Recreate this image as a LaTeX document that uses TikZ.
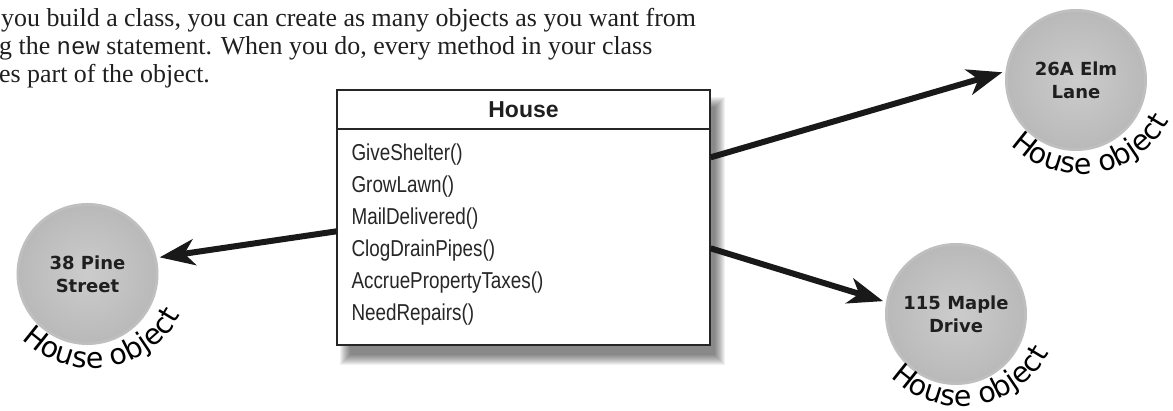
\documentclass[tikz,border=0pt]{standalone}
\usepackage{fontspec}
\setmainfont{Liberation Serif}
\newfontfamily\sansf{Liberation Sans}
\newfontfamily\methf[FakeStretch=0.82]{Liberation Sans}
\newfontfamily\monof{Liberation Mono}
\newfontfamily\labf{DejaVu Sans}
\usetikzlibrary{arrows.meta,decorations.text}
\pgfdeclareradialshading{ballshade}{\pgfpoint{0bp}{0bp}}{color(0bp)=(black!20); color(24bp)=(black!27); color(40bp)=(black!36); color(46bp)=(black!52); color(48.5bp)=(black!66); color(50bp)=(black!50)}
\begin{document}
\begin{tikzpicture}[x=1pt,y=1pt,
  toptext/.style={anchor=base west, inner sep=0, font=\fontsize{25.9}{28}\selectfont, text=black!88},
  classbox/.style={draw=black!85, line width=1.3pt, fill=white, minimum width=373pt, minimum height=255pt, inner sep=0},
  meth/.style={anchor=base west, inner sep=0, font=\methf\fontsize{23}{23}\selectfont, text=black!85},
  ball/.style={circle, minimum size=136pt, inner sep=0, outer sep=6pt, shading=ballshade, preaction={draw=black!25, line width=6pt}, align=center, font=\labf\bfseries\fontsize{18}{23}\selectfont, text=black!88},
  link/.style={line width=6pt, draw=black!90, -{Stealth[length=35pt,width=26pt,inset=10pt]}},
  hobj/.style={decorate, decoration={text along path, text align=center, text={|\labf\fontsize{28.5}{28.5}\selectfont|House object}}}
]
\useasboundingbox (0,0) rectangle (1173,411);
% top paragraph
\node[toptext] (t1) at (1,384) {you build a class, you can create as many objects as you want from};
\node[toptext] (t2) at (-1,356) {g the {\monof\fontsize{24}{28}\selectfont new} statement. When you do, every method in your class};
\node[toptext] (t3) at (-1,328) {es part of the object.};
% shadow of class box
\foreach \e in {0,...,10}{
  \fill[black, opacity=0.055] (340+\e,46+\e) rectangle (725-\e,314-\e);
}
% class box
\node[classbox] (house) at (523.5,193.5) {};
\draw[line width=2pt, black!85] ([yshift=-40pt]house.north west) -- ([yshift=-40pt]house.north east);
\node[anchor=base, inner sep=0, font=\sansf\bfseries\fontsize{23}{23}\selectfont, text=black!88] (title) at ([yshift=-28pt]house.north) {House};
\node[meth] (m1) at ([xshift=15pt,yshift=-71pt]house.north west) {GiveShelter()};
\node[meth] (m2) at ([xshift=15pt,yshift=-103pt]house.north west) {GrowLawn()};
\node[meth] (m3) at ([xshift=15pt,yshift=-135pt]house.north west) {MailDelivered()};
\node[meth] (m4) at ([xshift=15pt,yshift=-167pt]house.north west) {ClogDrainPipes()};
\node[meth] (m5) at ([xshift=15pt,yshift=-199pt]house.north west) {AccruePropertyTaxes()};
\node[meth] (m6) at ([xshift=15pt,yshift=-231pt]house.north west) {NeedRepairs()};
% objects
\node[ball] (pine) at (87.5,137) {38 Pine\\Street};
\node[ball] (elm) at (1076,331) {26A Elm\\Lane};
\node[ball] (maple) at (956,97) {115 Maple\\Drive};
\path[hobj] ([shift={(5,6)}]pine.center) ++(-150:100pt) arc[start angle=-150,end angle=-13,radius=100pt];
\path[hobj] ([shift={(5,6)}]elm.center) ++(-150:100pt) arc[start angle=-150,end angle=-13,radius=100pt];
\path[hobj] ([shift={(5,8)}]maple.center) ++(-150:100pt) arc[start angle=-150,end angle=-13,radius=100pt];
% connectors
\coordinate (s1) at ([yshift=-142pt]house.north west);
\coordinate (s2) at ([yshift=-68pt]house.north east);
\coordinate (s3) at ([yshift=-159pt]house.north east);
\draw[link] (s1) -- (pine.13);
\draw[link] (s2) -- (elm.174);
\draw[link] (s3) -- (maple.170);
\end{tikzpicture}
\end{document}
